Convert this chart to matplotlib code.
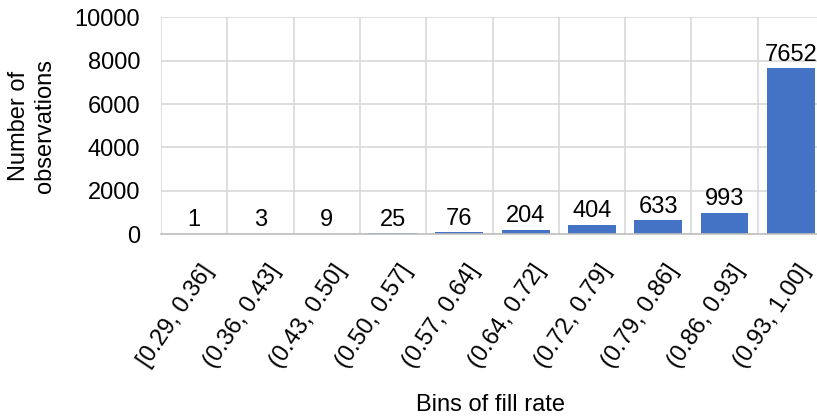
import matplotlib
matplotlib.use("Agg")
import matplotlib.pyplot as plt
import matplotlib.transforms as mtransforms
import numpy as np

plt.rcParams['font.family'] = ['Liberation Sans', 'DejaVu Sans']

bins = ["[0.29, 0.36]", "(0.36, 0.43]", "(0.43, 0.50]", "(0.50, 0.57]", "(0.57, 0.64]",
        "(0.64, 0.72]", "(0.72, 0.79]", "(0.79, 0.86]", "(0.86, 0.93]", "(0.93, 1.00]"]
counts = [1, 3, 9, 25, 76, 204, 404, 633, 993, 7652]
y_ticks = [0, 2000, 4000, 6000, 8000, 10000]

bar_color = "#4472C4"
grid_color = "#D9D9D9"
fs = 17

fig = plt.figure(figsize=(8.17, 4.19), dpi=100)
ax = fig.add_axes([161 / 817, 1 - 234 / 419, (824 - 161) / 817, (234 - 17.5) / 419])

x = np.arange(len(bins))
ax.bar(x, counts, width=0.72, color=bar_color, zorder=3)

for xi, v in zip(x, counts):
    ax.annotate(str(v), (xi, v), xytext=(0, 2), textcoords="offset points",
                ha="center", va="bottom", fontsize=fs, color="#000000", zorder=4)

ax.set_xlim(-0.5, len(bins) - 0.5)
ax.set_ylim(0, 10000)
ax.set_yticks(y_ticks)
ax.set_yticklabels([str(t) for t in y_ticks], fontsize=fs)

# horizontal gridlines at the value ticks, vertical ones between categories
ax.yaxis.grid(True, color=grid_color, linewidth=1.2, zorder=0)
for b in np.arange(-0.5, len(bins) + 0.5, 1.0):
    ax.axvline(b, color=grid_color, linewidth=1.2, zorder=0)

ax.set_xticks(x)
ax.set_xticklabels(bins, rotation=56, ha="right", va="top",
                   rotation_mode="anchor", fontsize=fs)
ax.tick_params(axis="both", length=0)
ax.tick_params(axis="y", pad=15)
ax.tick_params(axis="x", pad=19)
shift = mtransforms.ScaledTranslation(6 / 100, 0, fig.dpi_scale_trans)
for lbl in ax.get_xticklabels():
    lbl.set_transform(lbl.get_transform() + shift)

for side in ["top", "right", "left"]:
    ax.spines[side].set_visible(False)
ax.spines["bottom"].set_color("#BFBFBF")
ax.spines["bottom"].set_linewidth(1.2)
ax.spines["bottom"].set_zorder(5)

fig.text(32 / 817, 0.5 * ((1 - 234 / 419) + (1 - 17.5 / 419)), "Number of\nobservations",
         rotation=90, ha="center", va="center", fontsize=fs, linespacing=1.25)
fig.text(490 / 817, 1 - 405 / 419, "Bins of fill rate", ha="center", va="center", fontsize=fs)

fig.savefig("out.png", dpi=100)
